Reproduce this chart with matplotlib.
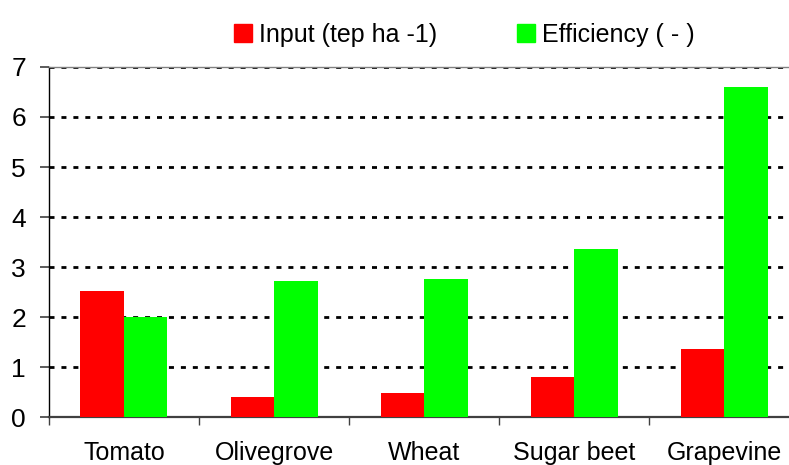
import numpy as np
import matplotlib.pyplot as plt
from matplotlib.patches import Patch

# crops and their energy input / efficiency values
crops = ['Tomato', 'Olivegrove', 'Wheat', 'Sugar beet', 'Grapevine']
energy_input = [2.52, 0.40, 0.48, 0.80, 1.36]
efficiency = [2.00, 2.72, 2.76, 3.36, 6.60]
series_names = ['Input (tep ha -1)', 'Efficiency ( - )']

plt.rcParams['font.family'] = ['Liberation Sans', 'DejaVu Sans']

fig = plt.figure(figsize=(7.89, 4.65), dpi=100)
ax = fig.add_axes([0.062, 0.103, 0.951, 0.753])

x = np.arange(len(crops))
w = 0.29
ax.bar(x - w / 2, energy_input, width=w, color='#ff0000', zorder=3)
ax.bar(x + w / 2, efficiency, width=w, color='#00ff00', zorder=3)

ax.set_xlim(-0.5, len(crops) - 0.5)
ax.set_ylim(0, 7)
ax.set_yticks(range(8))
ax.yaxis.grid(True, color='black', lw=2, ls=(0, (1.8, 2.5)), zorder=1)

# labels at the centres, tick marks on the category boundaries
ax.set_xticks(x)
ax.set_xticklabels(crops, fontsize=18)
ax.tick_params(axis='x', which='major', length=0, pad=17.5)
ax.set_xticks(np.arange(len(crops)) - 0.5, minor=True)
ax.tick_params(axis='x', which='minor', length=5.5, width=1, color='#404040')
ax.tick_params(axis='y', labelsize=19, length=6.5, width=1.2, color='#404040', pad=10)

ax.spines['right'].set_visible(False)
ax.spines['top'].set_color('#808080')
ax.spines['top'].set_linewidth(1)
ax.spines['left'].set_color('black')
ax.spines['left'].set_linewidth(1)
ax.spines['bottom'].set_color('#404040')
ax.spines['bottom'].set_linewidth(1.6)

handles = [Patch(color='#ff0000'), Patch(color='#00ff00')]
fig.legend(handles, series_names, loc='center', bbox_to_anchor=(0.589, 0.925),
           ncol=2, frameon=False, fontsize=18, handlelength=0.7, handleheight=0.7,
           handletextpad=0.3, columnspacing=3.2, borderpad=0)

fig.savefig('out.png', dpi=100)
